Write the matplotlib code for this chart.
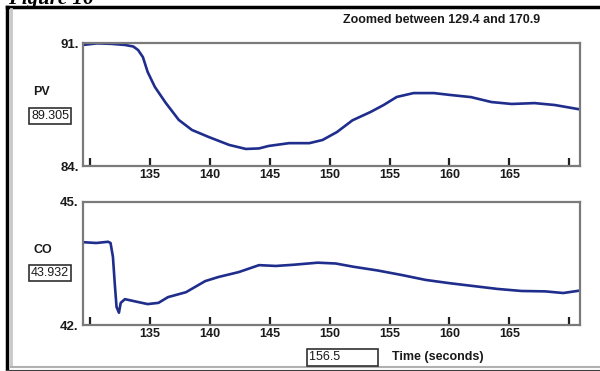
import numpy as np
import matplotlib.pyplot as plt

# data
pv_time = [129.4, 130.6, 131.8, 132.9, 133.6, 134.0, 134.4, 134.8, 135.4, 136.3, 137.4,
           138.5, 139.9, 141.6, 143.0, 144.1, 144.9, 146.6, 148.3, 149.4, 150.6, 151.9,
           153.4, 154.5, 155.6, 157.0, 158.7, 160.1, 161.8, 163.5, 165.2, 167.1, 168.8, 170.9]
pv_vals = [90.89, 90.98, 90.95, 90.89, 90.8, 90.6, 90.2, 89.35, 88.5, 87.6, 86.62,
           86.05, 85.65, 85.2, 84.97, 85.0, 85.14, 85.3, 85.3, 85.48, 85.93, 86.6,
           87.07, 87.47, 87.93, 88.15, 88.15, 88.04, 87.92, 87.64, 87.53, 87.58, 87.47, 87.22]

co_time = [129.4, 130.5, 131.5, 131.7, 131.9, 132.05, 132.2, 132.4, 132.55, 132.9, 134.0,
           134.8, 135.7, 136.5, 138.0, 139.6, 140.7, 142.4, 144.1, 145.5, 147.0, 149.0,
           150.5, 152.0, 154.0, 156.0, 158.0, 160.0, 162.0, 164.0, 166.0, 168.0, 169.5, 170.9]
co_vals = [44.02, 44.0, 44.03, 44.0, 43.66, 43.02, 42.44, 42.3, 42.54, 42.63, 42.56,
           42.51, 42.54, 42.68, 42.8, 43.07, 43.17, 43.29, 43.46, 43.44, 43.47, 43.52,
           43.5, 43.42, 43.33, 43.22, 43.1, 43.02, 42.95, 42.88, 42.83, 42.82, 42.78, 42.84]

xticks = [130, 135, 140, 145, 150, 155, 160, 165, 170]
xlabels = ['', '135', '140', '145', '150', '155', '160', '165', '']

line_col = '#1f2d8c'
font = 'Liberation Sans'
txt_col = '#1a1a1a'

fig = plt.figure(figsize=(6.0, 3.71), dpi=100)
fig.patch.set_facecolor('white')

# window frame drawn in pixel coords
bg = fig.add_axes([0, 0, 1, 1], zorder=-5)
bg.set_xlim(0, 600)
bg.set_ylim(371, 0)
bg.axis('off')
bg.plot([7, 600], [7, 7], color='black', lw=2.5)
bg.plot([7, 7], [7, 371], color='black', lw=2.5)
bg.plot([11, 11], [9, 366], color='#c8c8c8', lw=2)
bg.plot([11, 600], [367, 367], color='#b0b0b0', lw=1.5)
bg.plot([7, 600], [370.5, 370.5], color='#404040', lw=1.5)
bg.text(8, 4, 'Figure 16', fontsize=15, family='Liberation Serif',
        fontweight='bold', style='italic', va='baseline', ha='left')

bg.text(442, 20, 'Zoomed between 129.4 and 170.9', fontsize=9, family=font,
        fontweight='bold', ha='center', va='center', color=txt_col)
bg.text(42, 92, 'PV', fontsize=9, family=font, fontweight='bold', ha='center', va='center',
        color=txt_col)
bg.text(50, 116, '89.305', fontsize=9, family=font, ha='center', va='center', color=txt_col,
        bbox=dict(boxstyle='square,pad=0.15', fc='white', ec='#303030', lw=1.2))
bg.text(43, 250, 'CO', fontsize=9, family=font, fontweight='bold', ha='center', va='center',
        color=txt_col)
bg.text(50, 273, '43.932', fontsize=9, family=font, ha='center', va='center', color=txt_col,
        bbox=dict(boxstyle='square,pad=0.15', fc='white', ec='#303030', lw=1.2))
bg.text(309, 357, '156.5' + ' ' * 10, fontsize=9, family=font, ha='left', va='center',
        color=txt_col, bbox=dict(boxstyle='square,pad=0.2', fc='white', ec='#303030', lw=1.2))
bg.text(392, 357, 'Time (seconds)', fontsize=9, family=font, fontweight='bold',
        ha='left', va='center', color=txt_col)


def setup(ax, ylo, yhi):
    ax.set_xlim(129.4, 170.9)
    ax.set_ylim(ylo, yhi)
    for s in ax.spines.values():
        s.set_color('#7a7a7a')
        s.set_linewidth(1.6)
    ax.set_xticks(xticks)
    ax.set_xticklabels(xlabels, fontsize=9, family=font, fontweight='bold', color=txt_col)
    ax.tick_params(axis='x', direction='in', length=6, width=1.6, color='#202020', pad=2)
    ax.set_yticks([ylo, yhi])
    ax.set_yticklabels(['%d.' % ylo, '%d.' % yhi], fontsize=9.5, family=font,
                       fontweight='bold', color=txt_col)
    ax.tick_params(axis='y', length=0, pad=3)


ax1 = fig.add_axes([83 / 600, 1 - 166 / 371, 497 / 600, 123 / 371])
ax1.plot(pv_time, pv_vals, color=line_col, lw=1.9)
setup(ax1, 84, 91)

ax2 = fig.add_axes([83 / 600, 1 - 325 / 371, 497 / 600, 123 / 371])
ax2.plot(co_time, co_vals, color=line_col, lw=1.9)
setup(ax2, 42, 45)

fig.savefig('out.png', dpi=100)
